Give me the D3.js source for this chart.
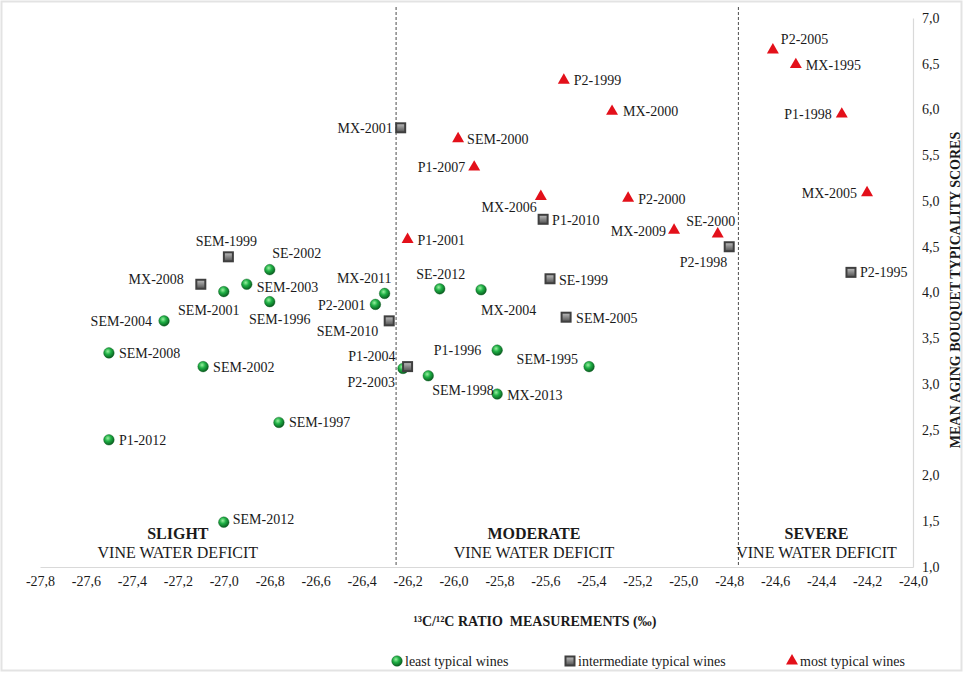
<!DOCTYPE html>
<html>
<head>
<meta charset="utf-8">
<script src="https://cdn.jsdelivr.net/npm/d3@7/dist/d3.min.js"></script>
<style>
  body { margin: 0; background: #fff; }
  svg text { font-family: "Liberation Serif", "Times New Roman", Times, "DejaVu Serif", serif; fill: #1a1a1a; }
</style>
</head>
<body>
<svg id="chart" width="964" height="673"></svg>
<script>
// least typical wines (green)
const leastNames = ["SEM-2008", "P1-2012", "SEM-2004", "SEM-2001", "SEM-2002", "SE-2002", "SEM-2003", "SEM-1996",
  "SEM-1997", "SEM-2012", "MX-2011", "P2-2001", "P2-2003", "SE-2012", "MX-2004", "P1-1996", "SEM-1998", "MX-2013", "SEM-1995"];
const leastX = [-27.50, -27.50, -27.26, -27.00, -27.09, -26.80, -26.90, -26.80,
  -26.76, -27.00, -26.30, -26.34, -26.22, -26.06, -25.88, -25.81, -26.11, -25.81, -25.41];
const leastY = [3.34, 2.39, 3.69, 4.01, 3.19, 4.25, 4.09, 3.90,
  2.58, 1.49, 3.99, 3.87, 3.17, 4.04, 4.03, 3.37, 3.09, 2.89, 3.19];

// intermediate typical wines (grey)
const midNames = ["SEM-1999", "MX-2008", "SEM-2010", "P1-2004", "SE-1999", "SEM-2005", "P2-1998", "MX-2001", "P1-2010", "P2-1995"];
const midX = [-26.98, -27.10, -26.28, -26.20, -25.58, -25.51, -24.80, -26.23, -25.61, -24.27];
const midY = [4.39, 4.09, 3.69, 3.19, 4.15, 3.73, 4.50, 5.80, 4.80, 4.22];

// most typical wines (red)
const mostNames = ["P2-1999", "MX-2000", "SEM-2000", "P1-2007", "MX-2006", "P2-2000", "MX-2009", "SE-2000", "P1-2001",
  "P2-2005", "MX-1995", "P1-1998", "MX-2005"];
const mostX = [-25.52, -25.31, -25.98, -25.91, -25.62, -25.24, -25.04, -24.85, -26.20, -24.61, -24.51, -24.31, -24.20];
const mostY = [6.32, 5.98, 5.68, 5.37, 5.05, 5.03, 4.68, 4.64, 4.58, 6.65, 6.49, 5.95, 5.09];

const xTickValues = [-27.8, -27.6, -27.4, -27.2, -27.0, -26.8, -26.6, -26.4, -26.2, -26.0,
  -25.8, -25.6, -25.4, -25.2, -25.0, -24.8, -24.6, -24.4, -24.2, -24.0];
const yTickValues = [1.0, 1.5, 2.0, 2.5, 3.0, 3.5, 4.0, 4.5, 5.0, 5.5, 6.0, 6.5, 7.0];
const deficitBounds = [-26.25, -24.76];
const zoneNames = ["SLIGHT", "MODERATE", "SEVERE"];
const zoneCenters = [-27.2, -25.65, -24.42];
const legendNames = ["least typical wines", "intermediate typical wines", "most typical wines"];

// label placement: [anchor, dx, dy] relative to the marker
const labelPlace = {
  "SEM-2008": ["start", 10, 0], "P1-2012": ["start", 10, 0], "SEM-2004": ["end", -12, 0],
  "SEM-2001": ["middle", -15, 19], "SEM-2002": ["start", 10, 0], "SE-2002": ["middle", 27, -17],
  "SEM-2003": ["start", 10, 3], "SEM-1996": ["middle", 10, 17], "SEM-1997": ["start", 10, 0],
  "SEM-2012": ["start", 9, -3], "MX-2011": ["end", 7, -15], "P2-2001": ["end", -10, 1],
  "P2-2003": ["end", -8, 14], "SE-2012": ["middle", 1, -15], "MX-2004": ["start", 0, 20],
  "P1-1996": ["end", -16, 0], "SEM-1998": ["start", 4, 14], "MX-2013": ["start", 10, 1],
  "SEM-1995": ["end", -11, -8],
  "SEM-1999": ["middle", -2, -16], "MX-2008": ["end", -17, -5], "SEM-2010": ["end", -11, 10],
  "P1-2004": ["end", -12, -11], "SE-1999": ["start", 9, 1], "SEM-2005": ["start", 10, 1],
  "P2-1998": ["end", -2, 15], "MX-2001": ["end", -8, 0], "P1-2010": ["start", 9, 1], "P2-1995": ["start", 9, 0],
  "P2-1999": ["start", 10, 0], "MX-2000": ["start", 11, 0], "SEM-2000": ["start", 9, 0],
  "P1-2007": ["end", -9, 0], "MX-2006": ["end", -4, 11], "P2-2000": ["start", 10, 1],
  "MX-2009": ["end", -8, 1], "SE-2000": ["middle", -7, -13], "P1-2001": ["start", 10, 1],
  "P2-2005": ["start", 8, -11], "MX-1995": ["start", 10, 0], "P1-1998": ["end", -10, 0], "MX-2005": ["end", -10, 0]
};

const svg = d3.select("#chart");
const width = 964, height = 673;
const plot = { left: 40, right: 913, top: 18, bottom: 567 };
const serif = "'Liberation Serif', 'Times New Roman', Times, 'DejaVu Serif', serif";

const x = d3.scaleLinear().domain([-27.8, -24.0]).range([plot.left, plot.right]);
const y = d3.scaleLinear().domain([1, 7]).range([plot.bottom, plot.top]);
const fmt = d3.formatLocale({ decimal: ",", thousands: ".", grouping: [3], currency: ["", ""], minus: "-" }).format(".1f");

// chart border
svg.append("rect")
  .attr("x", 1.5).attr("y", 1.5).attr("width", width - 4).attr("height", height - 4)
  .attr("fill", "#fff").attr("stroke", "#e3e3e3").attr("stroke-width", 2);

// gradients for the 3D looking markers
const defs = svg.append("defs");
const ball = defs.append("radialGradient").attr("id", "ball").attr("cx", "40%").attr("cy", "35%").attr("r", "65%");
ball.append("stop").attr("offset", "0%").attr("stop-color", "#9af0a0");
ball.append("stop").attr("offset", "45%").attr("stop-color", "#1fb045");
ball.append("stop").attr("offset", "100%").attr("stop-color", "#0a5e20");
const box = defs.append("linearGradient").attr("id", "box").attr("x1", 0).attr("y1", 0).attr("x2", 0).attr("y2", 1);
box.append("stop").attr("offset", "0%").attr("stop-color", "#b5b5b5");
box.append("stop").attr("offset", "100%").attr("stop-color", "#5c5c5c");

// axes
const xAxis = svg.append("g").attr("transform", `translate(0,${plot.bottom})`)
  .call(d3.axisBottom(x).tickValues(xTickValues).tickFormat(fmt).tickSize(0).tickPadding(9));
const yAxis = svg.append("g").attr("transform", `translate(${plot.right},0)`)
  .call(d3.axisRight(y).tickValues(yTickValues).tickFormat(fmt).tickSize(0).tickPadding(9));
[xAxis, yAxis].forEach(g => {
  g.attr("font-family", null).attr("font-size", null);
  g.select(".domain").attr("stroke", "#d9d9d9").attr("stroke-width", 1.2);
  g.selectAll("text").attr("font-size", 14).style("font-family", serif).attr("fill", "#1a1a1a");
});

// vine water deficit boundaries
svg.append("g").selectAll("line")
  .data(deficitBounds)
  .join("line")
  .attr("x1", d => x(d)).attr("x2", d => x(d))
  .attr("y1", 7).attr("y2", plot.bottom)
  .attr("stroke", "#4d4d4d").attr("stroke-width", 1).attr("stroke-dasharray", "3,2");

// zone captions
const zones = svg.append("g").selectAll("g").data(zoneNames).join("g")
  .attr("transform", (d, i) => `translate(${x(zoneCenters[i])},0)`);
zones.append("text").attr("y", 539).attr("text-anchor", "middle")
  .attr("font-size", 16).attr("font-weight", "bold").text(d => d);
zones.append("text").attr("y", 558).attr("text-anchor", "middle")
  .attr("font-size", 16).text("VINE WATER DEFICIT");

function rows(names, xs, ys) {
  return names.map((n, i) => ({ name: n, x: xs[i], y: ys[i] }));
}
const least = rows(leastNames, leastX, leastY);
const mid = rows(midNames, midX, midY);
const most = rows(mostNames, mostX, mostY);

function drawBall(sel) {
  sel.append("circle").attr("r", 5.3).attr("fill", "url(#ball)").attr("stroke", "#0b5a1e").attr("stroke-width", 0.4);
}
function drawBox(sel) {
  sel.append("rect").attr("x", -5.5).attr("y", -5.5).attr("width", 11).attr("height", 11)
    .attr("fill", "#3f3f3f");
  sel.append("rect").attr("x", -3.5).attr("y", -3.5).attr("width", 7).attr("height", 7)
    .attr("fill", "url(#box)");
}
function drawTri(sel) {
  sel.append("path").attr("d", d3.symbol().type(d3.symbolTriangle).size(62)())
    .attr("fill", "#e3101a");
}

const points = svg.append("g");
[[least, drawBall], [mid, drawBox], [most, drawTri]].forEach(([data, draw]) => {
  const g = points.append("g").selectAll("g").data(data).join("g")
    .attr("transform", d => `translate(${x(d.x)},${y(d.y)})`);
  draw(g);
});

// point labels
svg.append("g").selectAll("text")
  .data([...least, ...mid, ...most])
  .join("text")
  .attr("x", d => x(d.x) + labelPlace[d.name][1])
  .attr("y", d => y(d.y) + labelPlace[d.name][2])
  .attr("dy", "0.35em")
  .attr("text-anchor", d => labelPlace[d.name][0])
  .attr("font-size", 14)
  .text(d => d.name);

// axis titles
svg.append("text")
  .attr("x", 535).attr("y", 626).attr("text-anchor", "middle")
  .attr("font-size", 14).attr("font-weight", "bold")
  .style("white-space", "pre")
  .text("¹³C/¹²C RATIO  MEASUREMENTS (‰)");
svg.append("text")
  .attr("transform", "translate(955,290) rotate(-90)")
  .attr("text-anchor", "middle").attr("dy", "0.35em")
  .attr("font-size", 14).attr("font-weight", "bold")
  .text("MEAN AGING BOUQUET TYPICALITY SCORES");

// legend
const legendX = [397, 570, 792];
const legend = svg.append("g").selectAll("g").data(legendNames).join("g")
  .attr("transform", (d, i) => `translate(${legendX[i]},661)`);
[drawBall, drawBox, drawTri].forEach((draw, i) => draw(legend.filter((d, j) => j === i)));
legend.append("text").attr("x", 8).attr("dy", "0.35em").attr("font-size", 14).text(d => d);
</script>
</body>
</html>
